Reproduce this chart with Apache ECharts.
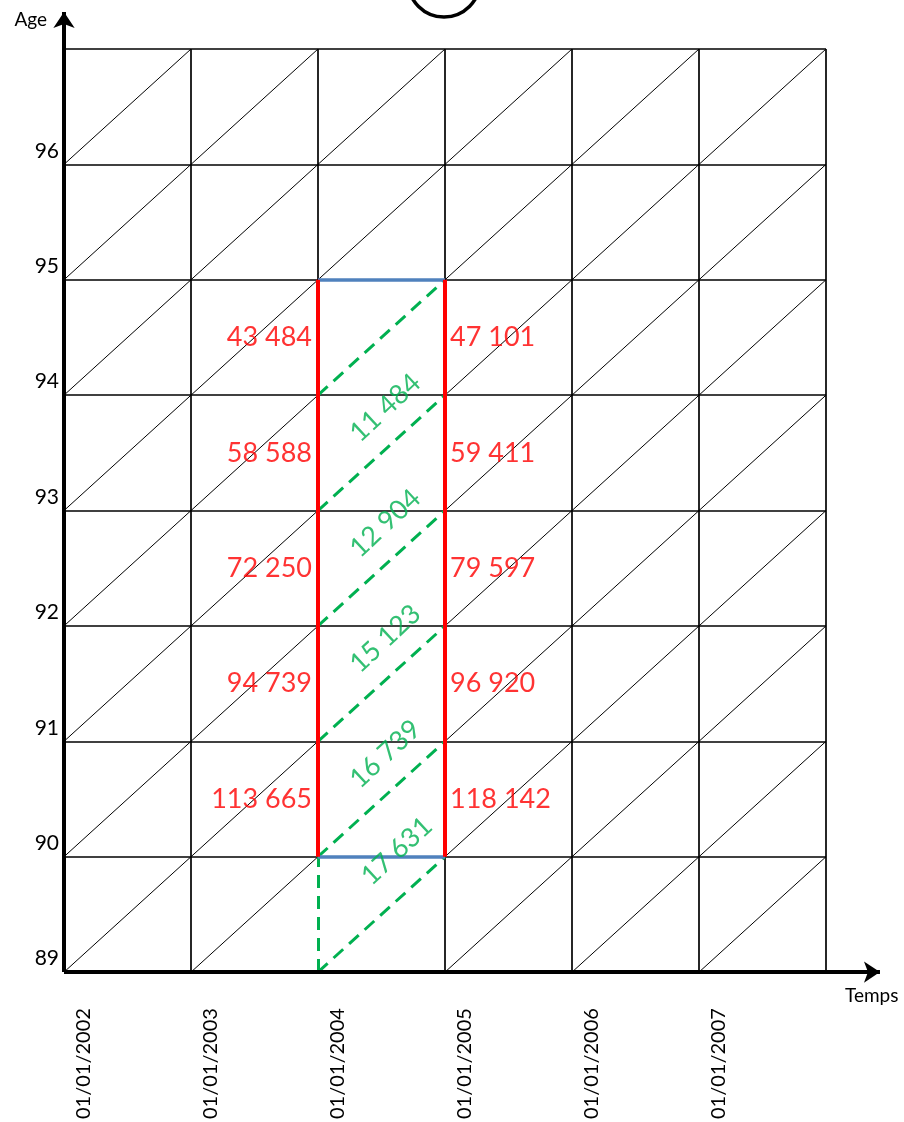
<!DOCTYPE html>
<html>
<head>
<meta charset="utf-8">
<script src="https://cdn.jsdelivr.net/npm/echarts@6/dist/echarts.min.js"></script>
<style>
html,body{margin:0;padding:0;background:#fff;}
#chart{width:904px;height:1122px;}
</style>
</head>
<body>
<div id="chart"></div>
<script>
// ---- data ----
const years = [2002, 2003, 2004, 2005, 2006, 2007, 2008];
const ages = [89, 90, 91, 92, 93, 94, 95, 96, 97];
const xTickLabels = ['01/01/2002', '01/01/2003', '01/01/2004', '01/01/2005', '01/01/2006', '01/01/2007'];
const yTickLabels = ['89', '90', '91', '92', '93', '94', '95', '96'];
const rowAges = [90, 91, 92, 93, 94];              // lower age of each row
const popStart = [113665, 94739, 72250, 58588, 43484]; // 01/01/2004
const popEnd = [118142, 96920, 79597, 59411, 47101];   // 01/01/2005
const deaths = [17631, 16739, 15123, 12904, 11484];
const obsStart = 2004, obsEnd = 2005;

function fmt(n) { return String(n).replace(/\B(?=(\d{3})+(?!\d))/g, ' '); }

const xMin = years[0], xMax = years[years.length - 1];
const yMin = ages[0], yMax = ages[ages.length - 1];
const topAge = rowAges[rowAges.length - 1] + 1;

// grid lines
const gridLines = [];
ages.slice(1).forEach(a => gridLines.push({ coords: [[xMin, a], [xMax, a]] }));
years.slice(1).forEach(y => {
  const from = (y === obsStart) ? yMin + 1 : yMin;
  gridLines.push({ coords: [[y, from], [y, yMax]] });
});
// diagonals
const diag = [];
years.slice(0, -1).forEach(y => {
  ages.slice(0, -1).forEach(a => {
    if (y === obsStart && a < topAge) return;
    diag.push({ coords: [[y, a], [y + 1, a + 1]] });
  });
});
const redLines = [
  { coords: [[obsStart, rowAges[0]], [obsStart, topAge]] },
  { coords: [[obsEnd, rowAges[0]], [obsEnd, topAge]] }
];
const blueLines = [
  { coords: [[obsStart, rowAges[0]], [obsEnd, rowAges[0]]] },
  { coords: [[obsStart, topAge], [obsEnd, topAge]] }
];
const greenLines = [{ coords: [[obsStart, yMin], [obsStart, yMin + 1]] }];
ages.filter(a => a < topAge).forEach(a => {
  greenLines.push({ coords: [[obsStart, a], [obsEnd, a + 1]] });
});

const labelFont = 'Lato, "Open Sans", sans-serif';
const redData = [];
rowAges.forEach((a, i) => {
  redData.push({ value: [obsStart, a + 0.5], label: { position: 'left', distance: 6, formatter: fmt(popStart[i]) } });
  redData.push({ value: [obsEnd, a + 0.5], label: { position: 'right', distance: 5, formatter: fmt(popEnd[i]) } });
});
const greenData = deaths.map((d, k) => {
  const pos = k === 0 ? [obsStart + 0.62, rowAges[0] + 0.05] : [obsStart + 0.53, rowAges[k] - 0.11];
  return { value: pos, label: { formatter: fmt(d) } };
});

const chart = echarts.init(document.getElementById('chart'));
chart.setOption({
  animation: false,
  backgroundColor: '#fff',
  grid: { left: 64, right: 78, top: 49, bottom: 148, containLabel: false },
  xAxis: {
    type: 'value', min: xMin, max: xMax, interval: 1,
    name: 'Temps', nameLocation: 'end', nameGap: 19,
    nameTextStyle: { fontFamily: labelFont, fontSize: 19, color: '#000', verticalAlign: 'top', padding: [14, 0, 0, 0] },
    axisLine: { show: false }, axisTick: { show: false }, splitLine: { show: false },
    axisLabel: {
      rotate: 90, margin: 36, fontFamily: labelFont, fontSize: 20, color: '#000',
      verticalAlign: 'top', padding: [10, 0, 0, 0],
      formatter: v => { const i = years.indexOf(v); return i >= 0 && i < xTickLabels.length ? xTickLabels[i] : ''; }
    }
  },
  yAxis: {
    type: 'value', min: yMin, max: yMax, interval: 1,
    name: 'Age', nameLocation: 'end', nameGap: 29,
    nameTextStyle: { fontFamily: labelFont, fontSize: 19, color: '#000', align: 'right', verticalAlign: 'middle', padding: [0, 17, 0, 0] },
    axisLine: { show: false }, axisTick: { show: false }, splitLine: { show: false },
    axisLabel: {
      margin: 5, fontFamily: labelFont, fontSize: 21, color: '#000', verticalAlign: 'bottom', padding: [0, 0, 3, 0],
      formatter: v => { const i = ages.indexOf(v); return i >= 0 && i < yTickLabels.length ? yTickLabels[i] : ''; }
    }
  },
  graphic: [{
    type: 'circle', shape: { cx: 444, cy: -19, r: 36 },
    style: { fill: 'none', stroke: '#000', lineWidth: 3.5 }, z: 10
  }],
  series: [
    { type: 'lines', coordinateSystem: 'cartesian2d', z: 2, clip: false, symbol: 'none',
      lineStyle: { color: '#000', width: 1.7, opacity: 1 }, data: gridLines },
    { type: 'lines', coordinateSystem: 'cartesian2d', z: 2, clip: false, symbol: 'none',
      lineStyle: { color: '#000', width: 1, opacity: 1 }, data: diag },
    { type: 'lines', coordinateSystem: 'cartesian2d', z: 3, clip: false, symbol: 'none',
      lineStyle: { color: '#00B050', width: 3, type: [13, 8], opacity: 1 }, data: greenLines },
    { type: 'lines', coordinateSystem: 'cartesian2d', z: 4, clip: false, symbol: 'none',
      lineStyle: { color: '#4F81BD', width: 3.5, opacity: 1 }, data: blueLines },
    { type: 'lines', coordinateSystem: 'cartesian2d', z: 5, clip: false, symbol: 'none',
      lineStyle: { color: '#FF0000', width: 4, opacity: 1 }, data: redLines },
    { type: 'lines', coordinateSystem: 'cartesian2d', z: 6, clip: false,
      symbol: ['none', 'arrow'], symbolSize: [12, 16],
      lineStyle: { color: '#000', width: 4, opacity: 1 },
      data: [
        { coords: [[xMin, yMin], [xMax + 0.425, yMin]] },
        { coords: [[xMin, yMin], [xMin, yMax + 0.32]] }
      ] },
    { type: 'scatter', z: 7, symbolSize: 0, silent: true,
      label: { show: true, color: '#FF0000', fontFamily: labelFont, fontSize: 27 },
      data: redData },
    { type: 'scatter', z: 7, symbolSize: 0, silent: true,
      label: { show: true, position: 'inside', rotate: 43, color: '#00B050', fontFamily: labelFont, fontSize: 27 },
      data: greenData }
  ]
});
</script>
</body>
</html>
